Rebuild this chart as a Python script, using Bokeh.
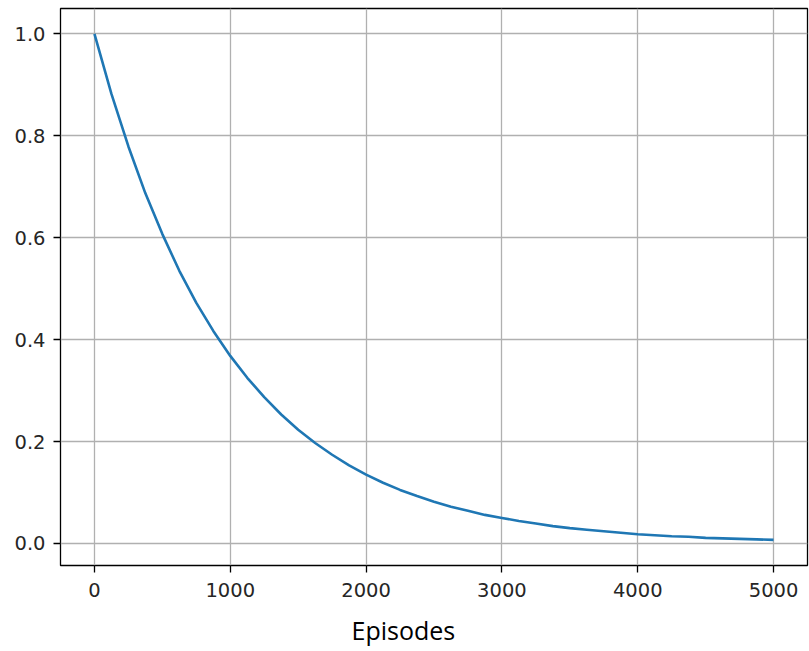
from bokeh.plotting import figure
from bokeh.models import Range1d, FixedTicker, Title, CustomJSTickFormatter
from bokeh.embed import file_html
from bokeh.resources import INLINE

episodes = [0, 125, 250, 375, 500, 625, 750, 875, 1000, 1125, 1250, 1375, 1500,
            1625, 1750, 1875, 2000, 2125, 2250, 2375, 2500, 2625, 2750, 2875,
            3000, 3125, 3250, 3375, 3500, 3625, 3750, 3875, 4000, 4125, 4250,
            4375, 4500, 4625, 4750, 4875, 5000]
epsilon = [1.0, 0.882, 0.779, 0.687, 0.607, 0.535, 0.472, 0.417, 0.368, 0.325,
           0.287, 0.253, 0.223, 0.197, 0.174, 0.153, 0.135, 0.119, 0.105, 0.093,
           0.082, 0.072, 0.064, 0.056, 0.050, 0.044, 0.039, 0.034, 0.030, 0.027,
           0.024, 0.021, 0.018, 0.016, 0.014, 0.013, 0.011, 0.010, 0.009, 0.008,
           0.007]
x_ticks = [0, 1000, 2000, 3000, 4000, 5000]
y_ticks = [0.0, 0.2, 0.4, 0.6, 0.8, 1.0]
x_label = "Episodes"

p = figure(width=809, height=651, output_backend="svg", toolbar_location=None,
           x_range=Range1d(-250, 5250), y_range=Range1d(-0.0433, 1.0497),
           min_border_left=60, min_border_right=2, min_border_top=8,
           min_border_bottom=86)

p.line(episodes, epsilon, line_color="#1f77b4", line_width=2.6)

p.outline_line_color = "black"
p.outline_line_width = 1.3
p.outline_line_alpha = 1.0
p.background_fill_color = "white"
p.border_fill_color = "white"

for ax, ticks in ((p.xaxis, x_ticks), (p.yaxis, y_ticks)):
    ax.ticker = FixedTicker(ticks=ticks)
    ax.axis_line_color = None
    ax.major_tick_out = 7
    ax.major_tick_in = 0
    ax.major_tick_line_color = "black"
    ax.major_tick_line_width = 1.3
    ax.minor_tick_line_color = None
    ax.major_label_text_font = "DejaVu Sans"
    ax.major_label_text_font_size = "19.5px"
    ax.major_label_text_color = "#262626"

p.xaxis.major_label_standoff = 10
p.yaxis.major_label_standoff = 8
p.yaxis.formatter = CustomJSTickFormatter(code="return tick.toFixed(1);")

# tiny spacer label so the "Episodes" title sits lower
p.xaxis.axis_label = " "
p.xaxis.axis_label_text_font_size = "1px"
p.xaxis.axis_label_standoff = 4

p.grid.grid_line_color = "#b0b0b0"
p.grid.grid_line_width = 1.3

p.add_layout(Title(text=x_label, align="left", offset=291, standoff=6,
                   text_font="Open Sans", text_font_size="25px",
                   text_font_style="normal", text_color="black"), "below")

open("out.html", "w").write(file_html(p, INLINE))
